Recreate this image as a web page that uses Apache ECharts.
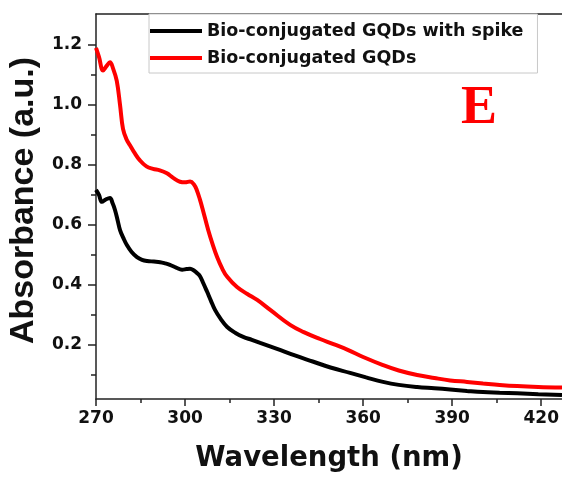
<!DOCTYPE html>
<html>
<head>
<meta charset="utf-8">
<script src="https://cdn.jsdelivr.net/npm/echarts@6/dist/echarts.min.js"></script>
<style>html,body{margin:0;padding:0;background:#fff;}#c{width:562px;height:481px;}</style>
</head>
<body>
<div id="c"></div>
<script>
const seriesNames = ['Bio-conjugated GQDs with spike', 'Bio-conjugated GQDs'];
const xTicks = [270, 300, 330, 360, 390, 420];
const xMinorTicks = [285, 315, 345, 375, 405];
const yTicks = [0.2, 0.4, 0.6, 0.8, 1.0, 1.2];
const yMinorTicks = [0.1, 0.3, 0.5, 0.7, 0.9, 1.1];

const spikeWl = [270, 271, 272, 273.3, 274.7, 275.6, 276.4, 277.3, 278.1, 279.2, 280.4, 282, 283.8, 285.5, 287.2, 289.5, 291.6, 293.3, 294.9, 297, 299, 300.5, 301.7, 303, 304, 305, 306.2, 307.4, 308.7, 310.1, 312, 314.2, 317, 319.6, 322.5, 325.3, 331, 337, 343, 349, 355.6, 361, 366.7, 372, 378.2, 384, 389.3, 395, 400.4, 406, 411.9, 419, 427];
const spikeAbs = [0.717, 0.70, 0.677, 0.685, 0.69, 0.672, 0.65, 0.615, 0.583, 0.557, 0.533, 0.51, 0.493, 0.484, 0.48, 0.478, 0.476, 0.472, 0.467, 0.458, 0.451, 0.453, 0.454, 0.448, 0.44, 0.43, 0.405, 0.378, 0.348, 0.317, 0.287, 0.26, 0.24, 0.227, 0.217, 0.207, 0.187, 0.165, 0.145, 0.125, 0.107, 0.092, 0.077, 0.067, 0.06, 0.056, 0.052, 0.047, 0.043, 0.041, 0.039, 0.036, 0.033];

const gqdWl = [270, 271, 272.4, 273.6, 274.7, 275.8, 277, 278.1, 279.1, 280.3, 281.5, 283, 284.8, 287, 289.2, 291.5, 293.9, 296, 298.3, 300, 301.7, 303, 304, 305, 306, 307.8, 309.3, 310.8, 312.5, 314.2, 317.5, 321, 324.3, 328.7, 335.4, 340, 345.5, 350, 355, 360, 366.7, 372, 378.2, 384, 389.3, 395, 400.4, 406, 411.9, 419, 427];
const gqdAbs = [1.19, 1.16, 1.115, 1.13, 1.142, 1.12, 1.08, 1.0, 0.92, 0.885, 0.865, 0.84, 0.815, 0.795, 0.787, 0.782, 0.772, 0.757, 0.744, 0.742, 0.745, 0.735, 0.715, 0.685, 0.65, 0.583, 0.535, 0.493, 0.455, 0.427, 0.393, 0.37, 0.35, 0.317, 0.267, 0.243, 0.22, 0.203, 0.183, 0.16, 0.133, 0.115, 0.1, 0.09, 0.082, 0.077, 0.072, 0.067, 0.063, 0.06, 0.058];

const pair = (xs, ys) => xs.map((x, i) => [x, ys[i]]);
const WIDE = '"DejaVu Sans", Verdana, sans-serif';
const ARIAL = '"Liberation Sans", Arial, sans-serif';
const axisCol = '#222';

const chart = echarts.init(document.getElementById('c'), null, {renderer: 'canvas'});
chart.setOption({
  animation: false,
  backgroundColor: '#fff',
  grid: {left: 96, top: 14, right: 0, bottom: 82, containLabel: false, outerBoundsMode: 'none'},
  legend: {
    orient: 'vertical', left: 149, top: 14,
    padding: [7, 14, 5, 1],
    icon: 'rect',
    itemWidth: 52, itemHeight: 4, itemGap: 7,
    borderColor: '#c8c8c8', borderWidth: 1,
    backgroundColor: '#fff',
    textStyle: {fontFamily: WIDE, fontWeight: 'bold', fontSize: 17.5, color: '#111', lineHeight: 20},
    data: seriesNames
  },
  xAxis: [
    {
      type: 'value', min: 270, max: 427, position: 'bottom',
      name: 'Wavelength (nm)', nameLocation: 'middle', nameGap: 46,
      nameTextStyle: {fontFamily: WIDE, fontWeight: 'bold', fontSize: 27.5, color: '#111'},
      axisLine: {show: true, lineStyle: {color: axisCol, width: 1.5}},
      axisTick: {show: true, inside: false, length: 7, customValues: xTicks, lineStyle: {color: axisCol, width: 1.5}},
      axisLabel: {customValues: xTicks, margin: 11, fontFamily: WIDE, fontWeight: 'bold', fontSize: 17, color: '#111'},
      splitLine: {show: false}
    },
    {
      type: 'value', min: 270, max: 427, position: 'bottom',
      axisLine: {show: false},
      axisTick: {show: true, length: 4, customValues: xMinorTicks, lineStyle: {color: axisCol, width: 1.5}},
      axisLabel: {show: false},
      splitLine: {show: false}
    },
    {
      type: 'value', min: 270, max: 427, position: 'top',
      axisLine: {show: true, lineStyle: {color: axisCol, width: 1.5}},
      axisTick: {show: false}, axisLabel: {show: false}, splitLine: {show: false}
    }
  ],
  yAxis: [
    {
      type: 'value', min: 0.02, max: 1.303, position: 'left',
      name: 'Absorbance (a.u.)', nameLocation: 'middle', nameGap: 55,
      nameTextStyle: {fontFamily: ARIAL, fontWeight: 'bold', fontSize: 34, color: '#111', padding: [0, 0, 0, 12]},
      axisLine: {show: true, lineStyle: {color: axisCol, width: 1.5}},
      axisTick: {show: true, length: 8, customValues: yTicks, lineStyle: {color: axisCol, width: 1.5}},
      axisLabel: {customValues: yTicks, margin: 14, fontFamily: WIDE, fontWeight: 'bold', fontSize: 17, color: '#111',
        formatter: v => v.toFixed(1)},
      splitLine: {show: false}
    },
    {
      type: 'value', min: 0.02, max: 1.303, position: 'left',
      axisLine: {show: false},
      axisTick: {show: true, length: 5, customValues: yMinorTicks, lineStyle: {color: axisCol, width: 1.5}},
      axisLabel: {show: false},
      splitLine: {show: false}
    }
  ],
  series: [
    {
      name: seriesNames[0], type: 'line', xAxisIndex: 0, yAxisIndex: 0,
      data: pair(spikeWl, spikeAbs), symbol: 'none', smooth: 0.4,
      itemStyle: {color: '#000'}, lineStyle: {color: '#000', width: 4}, z: 3
    },
    {
      name: seriesNames[1], type: 'line', xAxisIndex: 0, yAxisIndex: 0,
      data: pair(gqdWl, gqdAbs), symbol: 'none', smooth: 0.4,
      itemStyle: {color: '#ff0000'}, lineStyle: {color: '#ff0000', width: 4}, z: 2
    }
  ],
  graphic: [{
    type: 'text', x: 479, y: 109,
    style: {text: 'E', fill: '#ff0000', font: 'bold 54px "Liberation Serif", "Times New Roman", serif',
      textAlign: 'center', textVerticalAlign: 'middle'}
  }]
});
</script>
</body>
</html>
